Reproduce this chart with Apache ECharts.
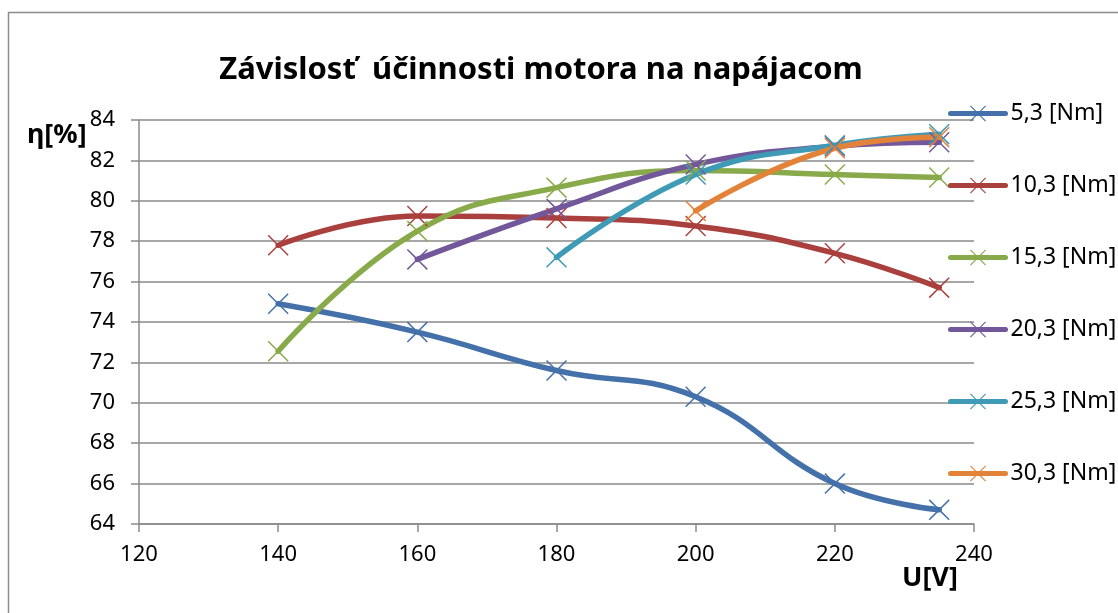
<!DOCTYPE html>
<html>
<head>
<meta charset="utf-8">
<script src="https://cdn.jsdelivr.net/npm/echarts@6/dist/echarts.min.js"></script>
<style>html,body{margin:0;padding:0;background:#fff}#c{width:1118px;height:613px}</style>
</head>
<body>
<div id="c"></div>
<script>
const titleText = 'Závislosť  účinnosti motora na napájacom';
const xName = 'U[V]';
const yName = 'η[%]';
const xTicks = { min: 120, max: 240, interval: 20 };
const yTicks = { min: 64, max: 84, interval: 2 };
const seriesNames = ['5,3 [Nm]', '10,3 [Nm]', '15,3 [Nm]', '20,3 [Nm]', '25,3 [Nm]', '30,3 [Nm]'];
const u53 = [140, 160, 180, 200, 220, 235];
const eta53 = [74.9, 73.5, 71.6, 70.3, 66.0, 64.7];
const u103 = [140, 160, 180, 200, 220, 235];
const eta103 = [77.8, 79.25, 79.15, 78.75, 77.4, 75.7];
const u153 = [140, 160, 180, 200, 220, 235];
const eta153 = [72.55, 78.5, 80.65, 81.5, 81.3, 81.15];
const u203 = [160, 180, 200, 220, 235];
const eta203 = [77.1, 79.6, 81.8, 82.7, 82.9];
const u253 = [180, 200, 220, 235];
const eta253 = [77.2, 81.3, 82.75, 83.3];
const u303 = [200, 220, 235];
const eta303 = [79.5, 82.6, 83.15];
const colors = ['#4471aa', '#aa403d', '#89aa4a', '#72589b', '#3f9bb5', '#e3833a'];

const xs = [u53, u103, u153, u203, u253, u303];
const ys = [eta53, eta103, eta153, eta203, eta253, eta303];
const xMark = 'path://M0 5L5 0L50 45L95 0L100 5L55 50L100 95L95 100L50 55L5 100L0 95L45 50Z';

const chart = echarts.init(document.getElementById('c'));
const font = 'Noto Sans';
chart.setOption({
  animation: false,
  backgroundColor: '#fff',
  color: colors,
  grid: { left: 139, right: 144, top: 120, bottom: 89, containLabel: false },
  title: {
    text: titleText, left: 536, top: 50, textAlign: 'center',
    textStyle: { fontFamily: font, fontSize: 31, fontWeight: 'bold', color: '#000' }
  },
  legend: {
    orient: 'vertical', left: 943, top: 97,
    itemWidth: 55, itemHeight: 20, itemGap: 49,
    lineStyle: { width: 5 },
    textStyle: { fontFamily: font, fontSize: 23, color: '#000' },
    data: seriesNames
  },
  xAxis: {
    type: 'value', min: xTicks.min, max: xTicks.max, interval: xTicks.interval,
    axisLine: { show: true, lineStyle: { color: '#8a8a8a', width: 1.5 } },
    axisTick: { show: true, length: 8, lineStyle: { color: '#8a8a8a', width: 1.5 } },
    axisLabel: { margin: 20, fontFamily: font, fontSize: 22, color: '#000' },
    splitLine: { show: false }
  },
  yAxis: {
    type: 'value', min: yTicks.min, max: yTicks.max, interval: yTicks.interval,
    axisLine: { show: true, lineStyle: { color: '#8a8a8a', width: 1.5 } },
    axisTick: { show: true, length: 8, lineStyle: { color: '#8a8a8a', width: 1.5 } },
    axisLabel: { margin: 24, fontFamily: font, fontSize: 22, color: '#000' },
    splitLine: { show: true, lineStyle: { color: '#8a8a8a', width: 1.5 } }
  },
  graphic: [
    { type: 'polyline', shape: { points: [[8.5, 613], [8.5, 12.5], [1118, 12.5]] },
      style: { stroke: '#8c8c8c', lineWidth: 1.5, fill: null }, silent: true },
    { type: 'text', left: 27, top: 122,
      style: { text: yName, fontFamily: font, fontSize: 27, fontWeight: 'bold', fill: '#000' } },
    { type: 'text', left: 902, top: 565,
      style: { text: xName, fontFamily: font, fontSize: 27, fontWeight: 'bold', fill: '#000' } }
  ],
  series: seriesNames.map((n, i) => ({
    name: n, type: 'line', smooth: 0.45,
    data: xs[i].map((x, j) => [x, ys[i][j]]),
    symbol: xMark, symbolSize: 21, showAllSymbol: true,
    lineStyle: { width: 5.5, color: colors[i], cap: 'round' },
    itemStyle: { color: colors[i] }
  }))
});
</script>
</body>
</html>
